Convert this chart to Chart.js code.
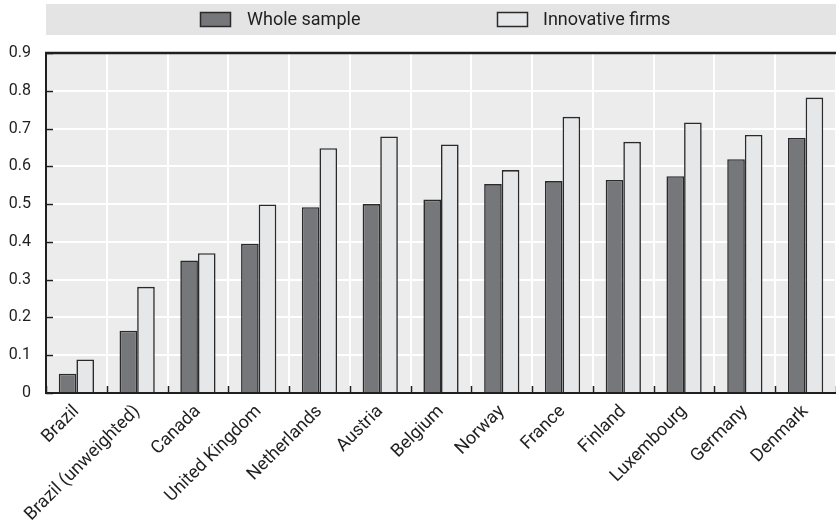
<!DOCTYPE html>
<html>
<head>
<meta charset="utf-8">
<script src="https://cdn.jsdelivr.net/npm/chart.js@4"></script>
<style>
  html, body { margin: 0; padding: 0; background: #ffffff; }
  #wrap { width: 836px; height: 523px; }
</style>
</head>
<body>
<div id="wrap"><canvas id="c" width="836" height="523"></canvas></div>
<script>
// Countries, ordered by the whole-sample share
const countries = [
  'Brazil', 'Brazil (unweighted)', 'Canada', 'United Kingdom', 'Netherlands',
  'Austria', 'Belgium', 'Norway', 'France', 'Finland', 'Luxembourg',
  'Germany', 'Denmark'
];
const wholeSample = [0.051, 0.165, 0.351, 0.395, 0.492, 0.500, 0.512, 0.553, 0.561, 0.564, 0.574, 0.619, 0.675];
const innovativeFirms = [0.089, 0.281, 0.370, 0.499, 0.648, 0.679, 0.658, 0.590, 0.731, 0.665, 0.716, 0.683, 0.782];
const seriesNames = ['Whole sample', 'Innovative firms'];
const yTicks = [0, 0.1, 0.2, 0.3, 0.4, 0.5, 0.6, 0.7, 0.8, 0.9];

const FONT = 'Roboto, "Liberation Sans", sans-serif';
const INK = '#1f1f1f';
const DARK = '#76777b';
const LIGHT = '#e6e7e9';
const EDGE = '#2a2a2a';

// Panel background behind the plot area
const panelBg = {
  id: 'panelBg',
  beforeDraw(chart) {
    const { ctx, chartArea: a } = chart;
    ctx.save();
    ctx.fillStyle = '#ececec';
    ctx.fillRect(a.left, a.top, a.right - a.left, a.bottom - a.top);
    ctx.restore();
  }
};

// Top frame line plus short inward tick marks on both axes
const frame = {
  id: 'frame',
  afterDraw(chart) {
    const { ctx, chartArea: a, scales } = chart;
    ctx.save();
    ctx.strokeStyle = INK;
    ctx.lineWidth = 1.5;
    yTicks.forEach(v => {
      const py = Math.round(scales.y.getPixelForValue(v)) + 0.5;
      ctx.beginPath();
      ctx.moveTo(a.left, py);
      ctx.lineTo(a.left + 7, py);
      ctx.stroke();
    });
    for (let i = 0; i <= countries.length; i++) {
      const px = Math.round(scales.x.getPixelForValue(i - 0.5)) + 0.5;
      ctx.beginPath();
      ctx.moveTo(px, a.bottom);
      ctx.lineTo(px, a.bottom - 7);
      ctx.stroke();
    }
    ctx.lineWidth = 2.5;
    ctx.beginPath();
    ctx.moveTo(a.left - 1, a.top);
    ctx.lineTo(a.right, a.top);
    ctx.stroke();
    ctx.restore();
  }
};

// Legend band across the top, built from the dataset labels and colours
const legendBand = {
  id: 'legendBand',
  afterDraw(chart) {
    const { ctx } = chart;
    const items = [{ box: 200, text: 247 }, { box: 497, text: 543 }];
    ctx.save();
    ctx.fillStyle = '#e4e4e4';
    ctx.fillRect(46, 4, 790, 31);
    chart.data.datasets.forEach((ds, i) => {
      const it = items[i];
      ctx.fillStyle = ds.backgroundColor;
      ctx.fillRect(it.box, 12, 31, 15);
      ctx.strokeStyle = EDGE;
      ctx.lineWidth = 1.5;
      ctx.strokeRect(it.box + 0.5, 12.5, 30, 14);
      ctx.fillStyle = INK;
      ctx.font = '18px ' + FONT;
      ctx.textBaseline = 'middle';
      ctx.textAlign = 'left';
      ctx.fillText(ds.label, it.text, 20);
    });
    ctx.restore();
  }
};

new Chart(document.getElementById('c'), {
  type: 'bar',
  data: {
    labels: countries,
    datasets: [
      {
        label: seriesNames[0],
        data: wholeSample,
        backgroundColor: DARK,
        borderColor: EDGE,
        borderWidth: 1.6,
        borderSkipped: 'start'
      },
      {
        label: seriesNames[1],
        data: innovativeFirms,
        backgroundColor: LIGHT,
        borderColor: EDGE,
        borderWidth: 1.6,
        borderSkipped: 'start'
      }
    ]
  },
  options: {
    responsive: false,
    devicePixelRatio: 1,
    animation: false,
    layout: { padding: { top: 53, left: 0, right: 0, bottom: 0 } },
    datasets: { bar: { categoryPercentage: 0.58, barPercentage: 1.0 } },
    plugins: {
      legend: { display: false },
      tooltip: { enabled: false }
    },
    scales: {
      x: {
        offset: true,
        grid: { color: '#ffffff', lineWidth: 2, drawTicks: false, offset: true },
        border: { display: true, color: INK, width: 2 },
        ticks: {
          autoSkip: false,
          minRotation: 45,
          maxRotation: 45,
          padding: 8,
          color: INK,
          font: { family: FONT, size: 18 }
        },
        afterFit(scale) { scale.height = 130; }
      },
      y: {
        min: 0,
        max: 0.9,
        afterBuildTicks(scale) { scale.ticks = yTicks.map(v => ({ value: v })); },
        grid: { color: '#ffffff', lineWidth: 2, drawTicks: false },
        border: { display: true, color: INK, width: 2 },
        ticks: {
          padding: 15,
          color: INK,
          font: { family: FONT, size: 16 },
          callback: v => (v === 0 ? '0' : v.toFixed(1))
        },
        afterFit(scale) { scale.width = 46; }
      }
    }
  },
  plugins: [panelBg, frame, legendBand]
});
</script>
</body>
</html>
